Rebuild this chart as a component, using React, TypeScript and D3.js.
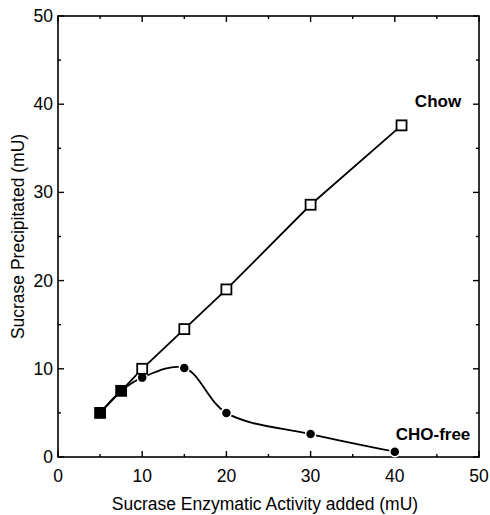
import React, { useEffect, useRef } from 'react';
import * as d3 from 'd3';

// Chow series (squares)
const chowX = [5, 7.5, 10, 15, 20, 30, 40.8];
const chowY = [5, 7.5, 10, 14.5, 19, 28.6, 37.6];
const chowFilled = [true, true, false, false, false, false, false];

// CHO-free series (circles)
const freeX = [10, 15, 20, 30, 40];
const freeY = [9, 10.1, 5, 2.6, 0.6];
// curve passes through the shared start points
const freeCurveX = [5, 7.5, 10, 15, 20, 30, 40];
const freeCurveY = [5, 7.5, 9, 10.1, 5, 2.6, 0.6];

const majorTicks = [0, 10, 20, 30, 40, 50];
const minorTicks = [5, 15, 25, 35, 45];

function App() {
  const svgRef = useRef<SVGSVGElement>(null);

  useEffect(() => {
    const width = 490;
    const height = 515;
    const margin = { top: 16, right: 11, bottom: 58, left: 58 };
    const font = 'Arial, Helvetica, "Liberation Sans", sans-serif';

    const svg = d3.select(svgRef.current);
    svg.selectAll('*').remove();
    svg.attr('width', width).attr('height', height);

    const x = d3.scaleLinear().domain([0, 50]).range([margin.left, width - margin.right]);
    const y = d3.scaleLinear().domain([0, 50]).range([height - margin.bottom, margin.top]);

    // frame
    svg.append('rect')
      .attr('x', x(0)).attr('y', y(50))
      .attr('width', x(50) - x(0)).attr('height', y(0) - y(50))
      .attr('fill', 'none').attr('stroke', '#000').attr('stroke-width', 1.6);

    // inward ticks on all four sides
    const tickG = svg.append('g').attr('stroke', '#000').attr('stroke-width', 1.4);
    const addTicks = (vals: number[], len: number) => {
      vals.forEach(v => {
        tickG.append('line').attr('x1', x(v)).attr('x2', x(v)).attr('y1', y(0)).attr('y2', y(0) - len);
        tickG.append('line').attr('x1', x(v)).attr('x2', x(v)).attr('y1', y(50)).attr('y2', y(50) + len);
        tickG.append('line').attr('y1', y(v)).attr('y2', y(v)).attr('x1', x(0)).attr('x2', x(0) + len);
        tickG.append('line').attr('y1', y(v)).attr('y2', y(v)).attr('x1', x(50)).attr('x2', x(50) - len);
      });
    };
    addTicks(majorTicks, 6);
    addTicks(minorTicks, 3);

    // tick labels
    svg.append('g').selectAll('text').data(majorTicks).enter().append('text')
      .attr('x', d => x(d)).attr('y', y(0) + 25)
      .attr('text-anchor', 'middle')
      .attr('font-family', font).attr('font-size', 17.5)
      .text(d => d);
    svg.append('g').selectAll('text').data(majorTicks).enter().append('text')
      .attr('x', x(0) - 5).attr('y', d => y(d) + 6)
      .attr('text-anchor', 'end')
      .attr('font-family', font).attr('font-size', 17.5)
      .text(d => d);

    // axis titles
    svg.append('text')
      .attr('x', 265).attr('y', 510)
      .attr('text-anchor', 'middle')
      .attr('font-family', font).attr('font-size', 17.5)
      .text('Sucrase Enzymatic Activity added (mU)');
    svg.append('text')
      .attr('transform', `translate(24,${(y(0) + y(50)) / 2}) rotate(-90)`)
      .attr('text-anchor', 'middle')
      .attr('font-family', font).attr('font-size', 17.5)
      .text('Sucrase Precipitated (mU)');

    // lines
    const chowLine = d3.line<number>().x(d => x(d)).y((d, i) => y(chowY[i]));
    svg.append('path')
      .attr('d', chowLine(chowX))
      .attr('fill', 'none').attr('stroke', '#000').attr('stroke-width', 1.8);

    const freeLine = d3.line<number>()
      .x(d => x(d)).y((d, i) => y(freeCurveY[i]))
      .curve(d3.curveCatmullRom.alpha(0.5));
    svg.append('path')
      .attr('d', freeLine(freeCurveX))
      .attr('fill', 'none').attr('stroke', '#000').attr('stroke-width', 1.8);

    // CHO-free markers
    svg.append('g').selectAll('circle').data(freeX).enter().append('circle')
      .attr('cx', d => x(d)).attr('cy', (d, i) => y(freeY[i]))
      .attr('r', 5).attr('fill', '#000')
      .attr('stroke', '#fff').attr('stroke-width', 1.5);

    // Chow markers
    const s = 10;
    svg.append('g').selectAll('rect').data(chowX).enter().append('rect')
      .attr('x', d => x(d) - s / 2).attr('y', (d, i) => y(chowY[i]) - s / 2)
      .attr('width', s).attr('height', s)
      .attr('fill', (d, i) => (chowFilled[i] ? '#000' : '#fff'))
      .attr('stroke', '#000').attr('stroke-width', 1.8);

    // series labels
    svg.append('text')
      .attr('x', 438).attr('y', 107)
      .attr('text-anchor', 'middle')
      .attr('font-family', font).attr('font-size', 17).attr('font-weight', 'bold')
      .text('Chow');
    svg.append('text')
      .attr('x', 433).attr('y', 440)
      .attr('text-anchor', 'middle')
      .attr('font-family', font).attr('font-size', 17).attr('font-weight', 'bold')
      .text('CHO-free');
  }, []);

  return (
    <div style={{ position: 'absolute', left: 0, top: 0, background: '#fff' }}>
      <svg ref={svgRef}></svg>
    </div>
  );
}

export default App;
